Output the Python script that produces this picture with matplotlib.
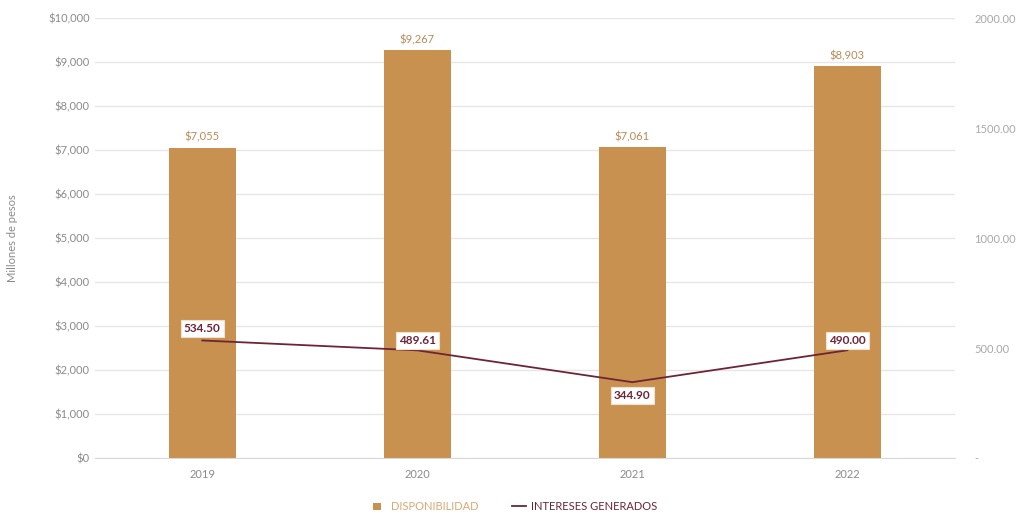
import matplotlib.pyplot as plt
from matplotlib.ticker import FuncFormatter

plt.rcParams['font.family'] = ['Lato', 'DejaVu Sans']

years = ['2019', '2020', '2021', '2022']
disponibilidad = [7055, 9267, 7061, 8903]
disp_labels = ['$7,055', '$9,267', '$7,061', '$8,903']
intereses = [534.50, 489.61, 344.90, 490.00]

bar_color = '#C8914F'
line_color = '#6E2437'
grey = '#8a8a8a'

fig = plt.figure(figsize=(10.30, 5.19), dpi=100)
ax = fig.add_axes([0.092, 0.1175, 0.835, 0.8475])
x = list(range(len(years)))

bars = ax.bar(x, disponibilidad, width=0.31, color=bar_color, zorder=2,
              label='DISPONIBILIDAD')
for xi, v, lab in zip(x, disponibilidad, disp_labels):
    ax.text(xi, v + 120, lab, ha='center', va='bottom', fontsize=8,
            color='#B88A55')

ax.set_xlim(-0.5, 3.5)
ax.set_ylim(0, 10000)
ax.set_yticks(range(0, 10001, 1000))
ax.yaxis.set_major_formatter(FuncFormatter(lambda v, p: '${:,.0f}'.format(v)))
ax.set_xticks(x)
ax.set_xticklabels(years)
ax.grid(axis='y', color='#e6e6e6', linewidth=1, zorder=0)
ax.set_axisbelow(True)
for s in ax.spines.values():
    s.set_visible(False)
ax.spines['bottom'].set_visible(True)
ax.spines['bottom'].set_color('#d9d9d9')
ax.tick_params(axis='both', length=0, labelsize=8, colors=grey)
ax.tick_params(axis='x', pad=8)
ax.set_ylabel('Millones de pesos', fontsize=8, color=grey, labelpad=22)

ax2 = ax.twinx()
ax2.set_ylim(0, 2000)
ax2.set_yticks([0, 500, 1000, 1500, 2000])
ax2.yaxis.set_major_formatter(FuncFormatter(lambda v, p: '-' if v == 0 else '{:.2f}'.format(v)))
ax2.tick_params(axis='y', length=0, labelsize=8, colors='#a8a8a8', pad=14)
for s in ax2.spines.values():
    s.set_visible(False)

line, = ax2.plot(x, intereses, color=line_color, linewidth=1.3, zorder=3,
                 label='INTERESES GENERADOS')
offsets = [55, 45, -62, 45]
for xi, v, off in zip(x, intereses, offsets):
    ax2.text(xi, v + off, '{:.2f}'.format(v), ha='center', va='center',
             fontsize=8.5, fontweight='bold', color=line_color, zorder=4,
             bbox=dict(boxstyle='square,pad=0.25', facecolor='white',
                       edgecolor='#f0e0d0', linewidth=0.8))

leg = fig.legend([bars, line], ['DISPONIBILIDAD', 'INTERESES GENERADOS'],
                 loc='lower center', bbox_to_anchor=(0.5, -0.005), ncol=2,
                 frameon=False, fontsize=8, handlelength=1.2, columnspacing=3,
                 handletextpad=0.5)
leg.get_texts()[0].set_color('#D9A877')
leg.get_texts()[1].set_color(line_color)
leg.legend_handles[0].set_height(5)
leg.legend_handles[0].set_width(6)

fig.savefig('out.png', dpi=100)
